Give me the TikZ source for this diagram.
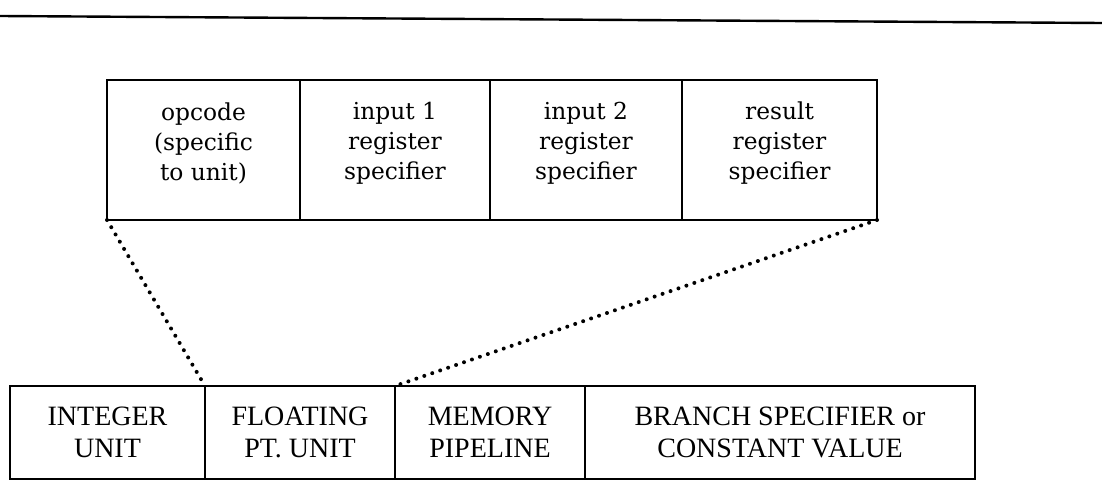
\documentclass[tikz,border=0pt]{standalone}
\usepackage{fontspec}
\setmainfont{Liberation Serif}
\newfontfamily\fieldfont{DejaVu Serif}
\begin{document}
\begin{tikzpicture}[x=0.75pt,y=-0.75pt,
  field/.style={draw, line width=1.7pt, rectangle, inner sep=0pt, outer sep=0pt,
    minimum height=105pt},
  fieldtext/.style={inner sep=0pt, align=center,
    font=\fieldfont\fontsize{17.5}{22.5}\selectfont},
  unitbox/.style={draw, line width=1.7pt, rectangle, inner sep=0pt, outer sep=0pt,
    minimum height=69.75pt, align=center,
    font=\fontsize{21}{24}\selectfont},
  dotline/.style={line width=3pt, line cap=round, dash pattern=on 0pt off 6.3pt}]
\useasboundingbox (0,0) rectangle (1102,485);

% rule across the top of the figure
\coordinate (ruleL) at (0,16);
\coordinate (ruleR) at (1102,23);
\draw[line width=1.8pt] (ruleL) -- (ruleR);

% instruction fields for one unit
\node[field, minimum width=144.75pt] (opc) at (203.5,150) {};
\node[field, minimum width=142.5pt]  (in1) at (395,150)   {};
\node[field, minimum width=144pt]    (in2) at (586,150)   {};
\node[field, minimum width=146.25pt] (res) at (779.5,150) {};
\node[fieldtext] (opcT) at ([yshift=5pt]opc.center) {opcode\\(specific\\to unit)};
\node[fieldtext] (in1T) at ([yshift=5pt]in1.center) {input 1\\register\\specifier};
\node[fieldtext] (in2T) at ([yshift=5pt]in2.center) {input 2\\register\\specifier};
\node[fieldtext] (resT) at ([yshift=5pt]res.center) {result\\register\\specifier};

% the long instruction word, one slot per unit
\node[unitbox, minimum width=146.25pt] (intu) at (107.5,432.5) {INTEGER\\UNIT};
\node[unitbox, minimum width=142.5pt]  (fpu)  at (300,432.5)   {FLOATING\\PT. UNIT};
\node[unitbox, minimum width=142.5pt]  (mem)  at (490,432.5)   {MEMORY\\PIPELINE};
\node[unitbox, minimum width=292.5pt]  (brn)  at (780,432.5)   {BRANCH SPECIFIER or\\CONSTANT VALUE};

% expansion of the floating-point slot
\draw[dotline] (opc.south west) -- (fpu.north west);
\draw[dotline] (res.south east) -- (fpu.north east);
\end{tikzpicture}
\end{document}
